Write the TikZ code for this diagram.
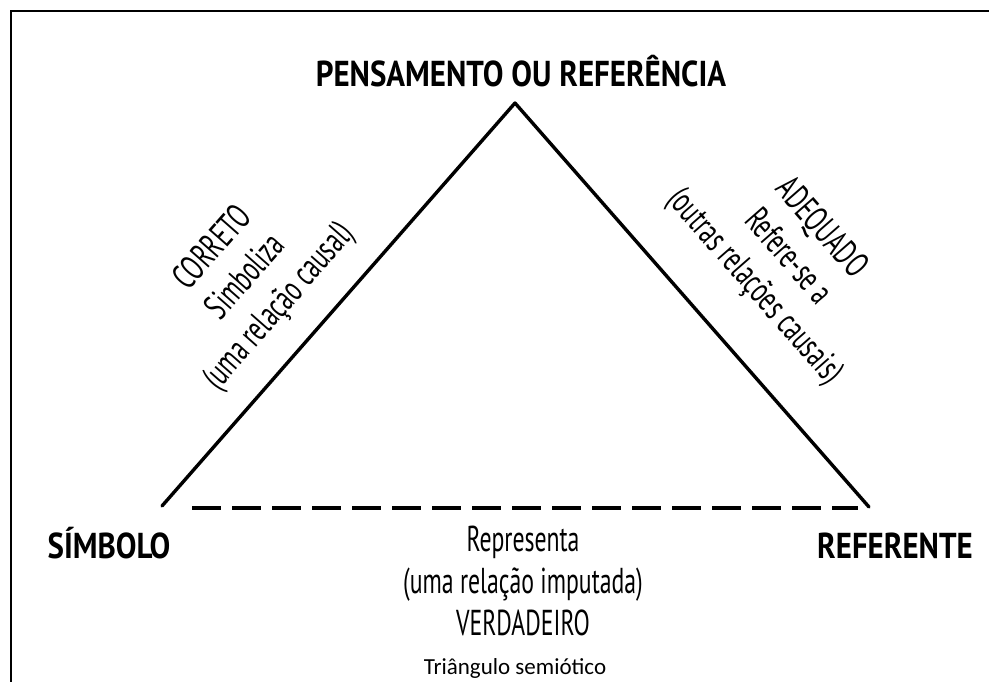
\documentclass[tikz,border=0pt]{standalone}
\usepackage{fontspec}
\newfontfamily\rotulofont[FakeStretch=0.86]{PT Sans}
\newfontfamily\relacaofont[FakeStretch=0.66]{PT Sans}
\newfontfamily\legendafont{Carlito}

\begin{document}
\begin{tikzpicture}[x=1pt, y=-1pt,
  rotulo/.style = {font=\rotulofont\bfseries\fontsize{36}{40}\selectfont, inner sep=0pt},
  relacao/.style = {font=\relacaofont\fontsize{36}{44}\selectfont, align=center, inner sep=0pt},
  legenda/.style = {font=\legendafont\fontsize{23}{26}\selectfont, inner sep=0pt},
  lado/.style = {line width=3.4pt, line cap=round, line join=round},
  tracejado/.style = {line width=3.4pt, dash pattern=on 29pt off 11pt}]
\useasboundingbox (0,0) rectangle (989,682);
% moldura
\draw[line width=2.6pt] (11,682) -- (11,11) -- (989,11);
% vertices do triangulo
\coordinate (topo) at (515,103);
\coordinate (esq) at (162,506);
\coordinate (dir) at (869,507);
\coordinate (tra1) at (192,508);
\coordinate (tra2) at (858,508);
\node[rotulo, anchor=base] (pensamento) at (521,87) {PENSAMENTO OU REFERÊNCIA};
\node[rotulo, anchor=base] (simbolo) at (109,558) {SÍMBOLO};
\node[rotulo, anchor=base] (referente) at (895,558) {REFERENTE};
\draw[lado] (esq) -- (topo) -- (dir);
\draw[tracejado] (tra1) -- (tra2);
\node[relacao, rotate=48.7] (correto) at (247,278) {CORRETO\\Simboliza\\(uma relação causal)};
\node[relacao, rotate=-48.8] (adequado) at (787,258) {ADEQUADO\\Refere-se a\\(outras relações causais)};
\node[relacao, anchor=north, font=\relacaofont\fontsize{36}{42}\selectfont] (verdadeiro) at (523,526) {Representa\\(uma relação imputada)\\VERDADEIRO};
\node[legenda, anchor=base] (legenda) at (515,674) {Triângulo semiótico};
\end{tikzpicture}
\end{document}
